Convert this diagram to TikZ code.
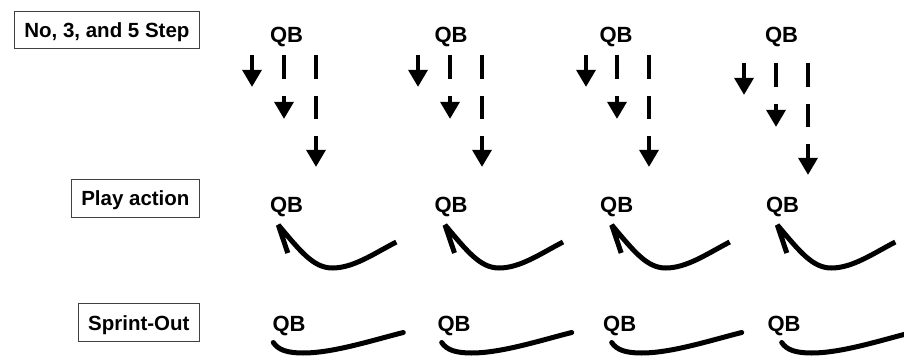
\documentclass[tikz,border=0pt]{standalone}
\usepackage{fontspec}
\setmainfont{Liberation Sans}
\usetikzlibrary{arrows.meta}
\begin{document}
\begin{tikzpicture}[x=1pt,y=-1pt,
  lab/.style={draw=black!75, line width=1pt, inner xsep=10pt, inner ysep=11.5pt,
    text height=14.7pt, text depth=0pt, font=\bfseries\fontsize{20.5}{24}\selectfont, anchor=base east},
  qb/.style={inner sep=0pt, anchor=base, font=\bfseries\fontsize{22}{26}\selectfont},
  seg/.style={line width=4.5pt},
  steparrow/.style={line width=4.5pt, -{Triangle[width=18.5pt,length=17pt]}},
  pa/.style={line width=5pt, line join=miter, miter limit=2.2},
  so/.style={line width=5pt, line cap=round}]
\useasboundingbox (0,0) rectangle (904,358);
\clip (0,0) rectangle (904,358);

% row labels
\node[lab] (lab1) at (200,37.3) {No, 3, and 5 Step};
\node[lab] (lab2) at (200,205.5) {Play action};
\node[lab] (lab3) at (200,330) {Sprint-Out};

% QB labels
\foreach \n/\x in {1/286.5,2/451,3/616,4/781.5}
  \node[qb] (q\n) at (\x,43) {QB};
\foreach \n/\x in {1/286.5,2/451,3/616.7,4/782.5}
  \node[qb] (p\n) at (\x,212.3) {QB};
\foreach \n/\x in {1/289,2/454,3/619.7,4/784}
  \node[qb] (s\n) at (\x,331) {QB};

% drop-back steps
\foreach \a/\b/\c/\y in {252/284/316/55, 418/450/482/55, 586/617/649/55, 744/776/808/63}{
  \draw[steparrow] (\a,\y) -- (\a,{\y+32});
  \draw[seg] (\b,\y) -- (\b,{\y+24});
  \draw[steparrow] (\b,{\y+41}) -- (\b,{\y+64});
  \draw[seg] (\c,\y) -- (\c,{\y+24});
  \draw[seg] (\c,{\y+41}) -- (\c,{\y+64.5});
  \draw[steparrow] (\c,{\y+81}) -- (\c,{\y+112});
}

% play action
\foreach \t in {278.3,445,611.7,777.3}
  \draw[pa] ({\t+9.5},253) -- (\t,225)
    .. controls ({\t+22},251) and ({\t+35},268) .. ({\t+54},268)
    .. controls ({\t+75},268) and ({\t+95},254) .. ({\t+118},242);

% sprint-out
\foreach \s in {273.3,441.7,611.7,781.7}
  \draw[so] (\s,342.5)
    .. controls ({\s+5},350) and ({\s+14},353) .. ({\s+30},353)
    .. controls ({\s+60},353) and ({\s+100},340) .. ({\s+130},332.5);
\end{tikzpicture}
\end{document}
